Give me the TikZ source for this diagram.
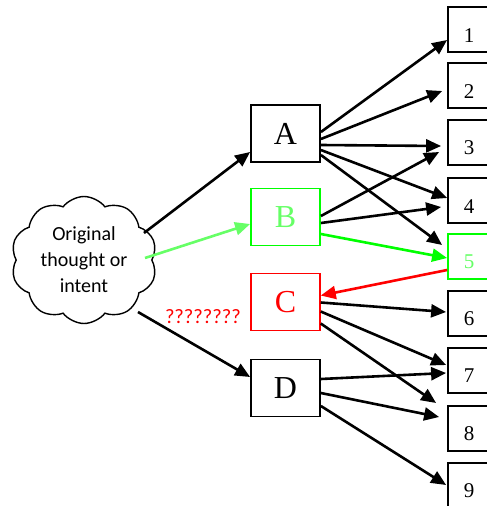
\documentclass[tikz,border=0pt]{standalone}
\usepackage{fontspec}
\setmainfont{Liberation Serif}
\newfontfamily\calibri{Carlito}
\usetikzlibrary{shapes.symbols,arrows.meta,calc}

\definecolor{brightgreen}{HTML}{00FF00}
\definecolor{softgreen}{HTML}{66FF66}
\definecolor{pure red}{HTML}{FF0000}

\begin{document}
\begin{tikzpicture}[x=1pt,y=-1pt,
  letterbox/.style={draw, line width=1.8pt, minimum width=69pt, minimum height=57pt,
    inner sep=0pt, fill=white, font=\fontsize{32}{34}\selectfont},
  numbox/.style={draw, line width=1.8pt, minimum width=44pt, minimum height=45pt,
    inner sep=0pt, fill=white},
  numtext/.style={inner sep=0pt, font=\fontsize{21}{23}\selectfont},
  link/.style={line width=2.6pt, -{Triangle[length=15pt,width=13pt]}},
]
\useasboundingbox (0,0) rectangle (487,506);

% outcome boxes 1-9 (right column)
\foreach \i/\yc in {1/29.5,2/85.5,3/142.5,4/200.5,6/313.5,7/370.5,8/428.5,9/485.5}{
  \node[numbox] (n\i) at (470,\yc) {};
  \node[numtext] (t\i) at ($(n\i.north west)+(22,29)$) {\i};
}
\node[numbox, draw=brightgreen] (n5) at (470,256.5) {};
\node[numtext, text=softgreen] (t5) at ($(n5.north west)+(22,29)$) {5};

% intermediate boxes
\node[letterbox] (A) at (285.5,133.5) {A};
\node[letterbox, draw=brightgreen, text=softgreen] (B) at (285.5,217) {B};
\node[letterbox, draw=pure red, text=pure red, line width=1.5pt] (C) at (285.5,302) {C};
\node[letterbox] (D) at (285.5,388) {D};

% the thought cloud
\node[cloud, draw, cloud puffs=10, cloud puff arc=105, aspect=1.15,
  minimum width=146pt, minimum height=127pt, line width=1.4pt, inner sep=0pt,
  align=center, font=\calibri\fontsize{20}{26}\selectfont] (cloud) at (84,260)
  {Original\\thought or\\intent};
\coordinate (cA) at ($(cloud.center)+(60,-27)$);
\coordinate (cB) at ($(cloud.center)+(61,-2)$);
\coordinate (cD) at ($(cloud.center)+(54,52)$);

\node[font=\calibri\fontsize{20.5}{22}\selectfont, text=pure red, inner sep=0pt] (q) at (203,317) {????????};

% cloud to A, B, D
\draw[link] (cA) -- ($(A.west)+(0,18.5)$);
\draw[link, draw=softgreen, fill=softgreen] (cB) -- ($(B.west)+(0,7)$);
\draw[link] (cD) -- ($(D.west)+(0,-11)$);

% from A
\draw[link] ($(A.east)+(0,-1.5)$) -- ($(n1.west)+(0,10.5)$);
\draw[link] ($(A.east)+(0,5.5)$) -- ($(n2.west)+(-5,5.5)$);
\draw[link] ($(A.east)+(0,11.5)$) -- ($(n3.west)+(-6,3.5)$);
\draw[link] ($(A.east)+(0,16.5)$) -- ($(n4.west)+(0,-2.5)$);
\draw[link] ($(A.east)+(0,21.5)$) -- ($(n5.west)+(-5,-11.5)$);

% from B
\draw[link] ($(B.east)+(0,-1)$) -- ($(n3.west)+(-8,9.5)$);
\draw[link] ($(B.east)+(0,6)$) -- ($(n4.west)+(-6,6.5)$);
\draw[link, draw=brightgreen, fill=brightgreen] ($(B.east)+(0,17)$) -- ($(n5.west)+(0,1.5)$);

% feedback from 5 to C
\draw[link, draw=pure red, fill=pure red] ($(n5.west)+(0,13.5)$) -- ($(C.east)+(0,-6.5)$);

% from C
\draw[link] ($(C.east)+(0,0.5)$) -- ($(n6.west)+(-1,-1.5)$);
\draw[link] ($(C.east)+(0,9.5)$) -- ($(n7.west)+(-1,-5.5)$);
\draw[link] ($(C.east)+(0,21.5)$) -- ($(n8.west)+(-11,-25.5)$);

% from D
\draw[link] ($(D.east)+(0,-9)$) -- ($(n7.west)+(-1,2.5)$);
\draw[link] ($(D.east)+(0,5)$) -- ($(n8.west)+(-8,-11.5)$);
\draw[link] ($(D.east)+(0,18)$) -- ($(n9.west)+(-1,-0.5)$);
\end{tikzpicture}
\end{document}
